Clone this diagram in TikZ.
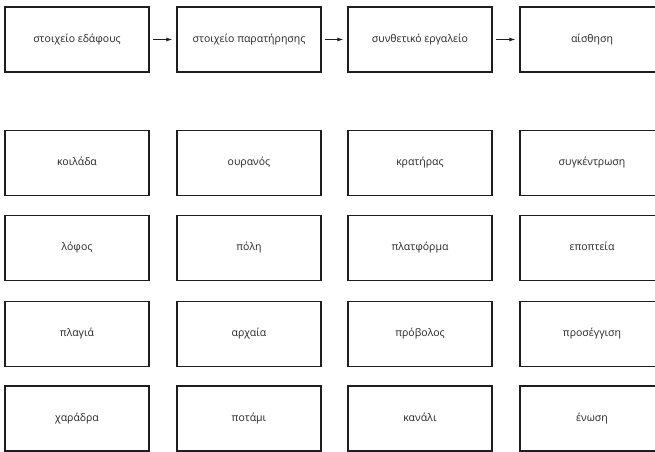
\documentclass[tikz,border=0pt]{standalone}
\usepackage{fontspec}
\setmainfont{Open Sans}
\usepackage{tikz}
\usetikzlibrary{arrows.meta, positioning}
\definecolor{boxgray}{RGB}{30, 30, 30}
\definecolor{textgray}{RGB}{35, 35, 35}
\tikzset{
  termbox/.style={draw=boxgray, line width=1.3pt, minimum width=144pt, minimum height=65pt,
    inner sep=0pt, text height=7.5pt, text depth=2.5pt,
    font=\fontsize{10.5}{12}\selectfont, text=textgray},
  flowarrow/.style={-{Latex[length=6pt, width=4pt]}, line width=0.9pt, boxgray,
    shorten <=3pt, shorten >=4pt}
}

\begin{document}
\begin{tikzpicture}[x=1pt, y=-1pt]
  \useasboundingbox (0, 0) rectangle (655, 451);
  \clip (0, 0) rectangle (655, 451);

  % Chain of concepts
  \node[termbox] (ground)  at (77, 39.5)  {στοιχείο εδάφους};
  \node[termbox] (observe) at (249, 39.5) {στοιχείο παρατήρησης};
  \node[termbox] (tool)    at (420, 39.5) {συνθετικό εργαλείο};
  \node[termbox] (sense)   at (592, 39.5) {αίσθηση};
  \draw[flowarrow] (ground) -- (observe);
  \draw[flowarrow] (observe) -- (tool);
  \draw[flowarrow] (tool) -- (sense);

  % Examples, one row at a time
  \foreach \a/\b/\c/\d/\y/\r in {
      κοιλάδα/ουρανός/κρατήρας/συγκέντρωση/163/r1,
      λόφος/πόλη/πλατφόρμα/εποπτεία/248/r2,
      πλαγιά/αρχαία/πρόβολος/προσέγγιση/334/r3,
      χαράδρα/ποτάμι/κανάλι/ένωση/418.5/r4} {
    \node[termbox] (\r-ground)  at (77, \y)  {\a};
    \node[termbox] (\r-observe) at (249, \y) {\b};
    \node[termbox] (\r-tool)    at (420, \y) {\c};
    \node[termbox] (\r-sense)   at (592, \y) {\d};
  }
\end{tikzpicture}
\end{document}
